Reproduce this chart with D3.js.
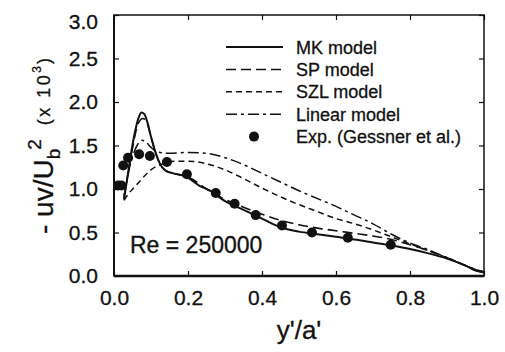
<!DOCTYPE html>
<html>
<head>
<meta charset="utf-8">
<script src="https://cdn.jsdelivr.net/npm/d3@7"></script>
<style>
  body { margin: 0; background: #fff; }
  text { font-family: "Liberation Sans", Arial, sans-serif; fill: #111; stroke: #111; stroke-width: 0.3px; }
</style>
</head>
<body>
<div id="chart"></div>
<script>
// data
var xTicks = [0.0, 0.2, 0.4, 0.6, 0.8, 1.0];
var yTicks = [0.0, 0.5, 1.0, 1.5, 2.0, 2.5, 3.0];

var mkX = [0.027, 0.035, 0.045, 0.055, 0.065, 0.074, 0.082, 0.09, 0.1, 0.11, 0.12, 0.13, 0.14, 0.16, 0.196, 0.23, 0.26, 0.3, 0.35, 0.4, 0.45, 0.5, 0.55, 0.6, 0.65, 0.7, 0.75, 0.8, 0.85, 0.9, 0.95, 0.98, 1.0];
var mkY = [0.88, 1.1, 1.38, 1.62, 1.8, 1.88, 1.86, 1.77, 1.6, 1.45, 1.33, 1.25, 1.21, 1.18, 1.14, 1.04, 0.98, 0.86, 0.76, 0.66, 0.56, 0.51, 0.48, 0.45, 0.42, 0.385, 0.35, 0.31, 0.26, 0.2, 0.12, 0.06, 0.04];

var spX = [0.027, 0.035, 0.045, 0.055, 0.065, 0.078, 0.088, 0.1, 0.11, 0.12, 0.13, 0.14, 0.16, 0.2, 0.25, 0.3, 0.35, 0.4, 0.45, 0.5, 0.55, 0.6, 0.65, 0.7, 0.75, 0.8, 0.85, 0.9, 0.95, 0.98, 1.0];
var spY = [0.9, 1.1, 1.35, 1.58, 1.75, 1.81, 1.77, 1.6, 1.45, 1.33, 1.25, 1.21, 1.18, 1.14, 1.0, 0.88, 0.79, 0.71, 0.64, 0.59, 0.55, 0.52, 0.49, 0.46, 0.42, 0.36, 0.29, 0.21, 0.12, 0.06, 0.04];

var szlX = [0.027, 0.04, 0.055, 0.07, 0.085, 0.1, 0.12, 0.14, 0.17, 0.2, 0.25, 0.3, 0.35, 0.4, 0.45, 0.5, 0.55, 0.6, 0.65, 0.7, 0.75, 0.8, 0.85, 0.9, 0.95, 0.98, 1.0];
var szlY = [0.87, 0.95, 1.02, 1.09, 1.16, 1.22, 1.27, 1.3, 1.32, 1.32, 1.29, 1.22, 1.12, 1.01, 0.91, 0.82, 0.74, 0.66, 0.6, 0.53, 0.45, 0.37, 0.29, 0.21, 0.12, 0.07, 0.05];

var linX = [0.027, 0.035, 0.045, 0.055, 0.065, 0.075, 0.085, 0.095, 0.105, 0.115, 0.125, 0.15, 0.2, 0.25, 0.3, 0.35, 0.4, 0.45, 0.5, 0.55, 0.6, 0.65, 0.7, 0.75, 0.8, 0.85, 0.9, 0.95, 0.98, 1.0];
var linY = [0.92, 1.1, 1.3, 1.43, 1.52, 1.56, 1.55, 1.5, 1.46, 1.43, 1.42, 1.41, 1.42, 1.41, 1.36, 1.28, 1.18, 1.08, 0.98, 0.89, 0.8, 0.7, 0.6, 0.48, 0.38, 0.3, 0.21, 0.12, 0.07, 0.05];

var expX = [0.011, 0.02, 0.025, 0.038, 0.068, 0.097, 0.143, 0.197, 0.275, 0.326, 0.383, 0.454, 0.535, 0.632, 0.748];
var expY = [1.04, 1.04, 1.27, 1.36, 1.40, 1.38, 1.31, 1.17, 0.955, 0.83, 0.70, 0.58, 0.50, 0.44, 0.36];

var legendNames = ["MK model", "SP model", "SZL model", "Linear model", "Exp. (Gessner et al.)"];
var legendDash = ["none", "10,5", "6,4", "11,4,3,4", null];

var w = 505, h = 352;
var margin = {left: 114, right: 21, top: 15, bottom: 76};

var svg = d3.select('#chart').append('svg').attr('width', w).attr('height', h);

var x = d3.scaleLinear().domain([0, 1]).range([margin.left, w - margin.right]);
var y = d3.scaleLinear().domain([0, 3]).range([h - margin.bottom, margin.top]);

//frame
svg.append('rect')
  .attr('x', x(0)).attr('y', y(3))
  .attr('width', x(1) - x(0)).attr('height', y(0) - y(3))
  .attr('fill', 'none').attr('stroke', '#111').attr('stroke-width', 1.5);
svg.append('line').attr('x1', x(0)).attr('x2', x(1)).attr('y1', y(0)).attr('y2', y(0))
  .attr('stroke', '#111').attr('stroke-width', 2.4);
svg.append('line').attr('x1', x(0)).attr('x2', x(0)).attr('y1', y(0)).attr('y2', y(3))
  .attr('stroke', '#111').attr('stroke-width', 2);

//axes with inward ticks
var xAxis = svg.append('g').attr('transform', 'translate(0,' + y(0) + ')')
  .call(d3.axisBottom(x).tickValues(xTicks).tickSize(-5).tickPadding(14).tickFormat(d3.format('.1f')));
var xTop = svg.append('g').attr('transform', 'translate(0,' + y(3) + ')')
  .call(d3.axisTop(x).tickValues(xTicks).tickSize(-5).tickFormat(''));
var yAxis = svg.append('g').attr('transform', 'translate(' + x(0) + ',0)')
  .call(d3.axisLeft(y).tickValues(yTicks).tickSize(-5).tickPadding(14).tickFormat(d3.format('.1f')));
var yRight = svg.append('g').attr('transform', 'translate(' + x(1) + ',0)')
  .call(d3.axisRight(y).tickValues(yTicks).tickSize(-5).tickFormat(''));
[xAxis, xTop, yAxis, yRight].forEach(function(g){
  g.select('.domain').remove();
  g.selectAll('line').attr('stroke', '#111').attr('stroke-width', 1.2);
});
xAxis.selectAll('text').attr('font-size', '21px').attr('fill', '#111');
yAxis.selectAll('text').attr('font-size', '21px').attr('fill', '#111').attr('dx', '-2');
// top label sits a little lower in the original
yAxis.selectAll('.tick').filter(function(d){ return d === 3; }).select('text').attr('dy', '0.62em');

//axis titles
svg.append('text').attr('x', x(0.5)).attr('y', 339).attr('text-anchor', 'middle')
  .attr('font-size', '26px').text("y'/a'");
var yt = svg.append('text').attr('transform', 'translate(53,234) rotate(-90)')
  .attr('text-anchor', 'start').attr('font-size', '28px');
yt.append('tspan').text('- uv/U');
yt.append('tspan').attr('font-size', '19px').attr('dy', 7).text('b');
yt.append('tspan').attr('font-size', '19px').attr('dy', -19).attr('dx', -1).text('2');
yt.append('tspan').attr('font-size', '18px').attr('dy', 9).attr('dx', 14)
  .attr('letter-spacing', '2.5px').text('(x 10');
yt.append('tspan').attr('font-size', '12px').attr('dy', -9).text('3');
yt.append('tspan').attr('font-size', '18px').attr('dy', 9).attr('dx', 2).text(')');

//model curves
var line = d3.line().x(function(d){ return x(d[0]); }).y(function(d){ return y(d[1]); })
  .curve(d3.curveMonotoneX);
var series = [
  {xs: mkX, ys: mkY, dash: legendDash[0], sw: 2},
  {xs: spX, ys: spY, dash: legendDash[1], sw: 1.6},
  {xs: szlX, ys: szlY, dash: legendDash[2], sw: 1.5},
  {xs: linX, ys: linY, dash: legendDash[3], sw: 1.5}
];
series.forEach(function(s){
  svg.append('path').datum(d3.zip(s.xs, s.ys))
    .attr('d', line).attr('fill', 'none').attr('stroke', '#111')
    .attr('stroke-width', s.sw).attr('stroke-dasharray', s.dash);
});

//experimental points
svg.selectAll('circle.exp').data(d3.zip(expX, expY)).enter().append('circle')
  .attr('class', 'exp')
  .attr('cx', function(d){ return x(d[0]); }).attr('cy', function(d){ return y(d[1]); })
  .attr('r', 5).attr('fill', '#111');

//legend
var leg = svg.append('g');
legendNames.forEach(function(name, i){
  var ly = 47 + i * 22.4;
  if (legendDash[i] !== null) {
    leg.append('line').attr('x1', 226).attr('x2', 283).attr('y1', ly).attr('y2', ly)
      .attr('stroke', '#111').attr('stroke-width', i == 0 ? 2 : 1.5)
      .attr('stroke-dasharray', legendDash[i]);
  } else {
    leg.append('circle').attr('cx', 254).attr('cy', ly).attr('r', 5).attr('fill', '#111');
  }
  leg.append('text').attr('x', 296).attr('y', ly + 6.5).attr('font-size', '18px').text(name);
});

svg.append('text').attr('x', 130).attr('y', 253).attr('font-size', '23px').text('Re = 250000');
</script>
</body>
</html>
